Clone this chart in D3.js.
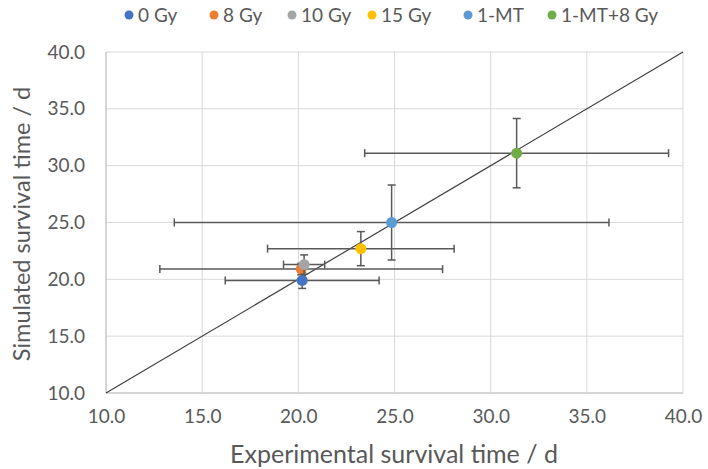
<!DOCTYPE html>
<html><head><meta charset="utf-8">
<script src="https://cdn.jsdelivr.net/npm/d3@7/dist/d3.min.js"></script>
<style>body{margin:0;background:#fff}svg{display:block}text{font-family:Lato,"Open Sans",sans-serif;fill:#595959}</style>
</head><body>
<svg id="c" width="708" height="469"></svg>
<script>
const series = ["0 Gy","8 Gy","10 Gy","15 Gy","1-MT","1-MT+8 Gy"];
const colors = ["#4472C4","#ED7D31","#A5A5A5","#FFC000","#5B9BD5","#70AD47"];
const xVals = [20.2, 20.15, 20.3, 23.25, 24.85, 31.35];
const yVals = [19.9, 20.9, 21.3, 22.7, 25.0, 31.1];
const xErr = [4.0, 7.35, 1.07, 4.85, 11.3, 7.9];
const yErr = [0.7, 0.5, 0.85, 1.5, 3.3, 3.05];
const ticks = [10,15,20,25,30,35,40];
const legendX = [129,214,292,372,468,552];

const svg = d3.select("#c");
const L=106,R=683,T=52,B=393;
const x = d3.scaleLinear().domain([10,40]).range([L,R]);
const y = d3.scaleLinear().domain([10,40]).range([B,T]);

// grid
svg.append("g").selectAll("line").data(ticks).join("line")
  .attr("x1",d=>x(d)).attr("x2",d=>x(d)).attr("y1",T).attr("y2",B)
  .attr("stroke","#d9d9d9").attr("stroke-width",1);
svg.append("g").selectAll("line").data(ticks).join("line")
  .attr("y1",d=>y(d)).attr("y2",d=>y(d)).attr("x1",L).attr("x2",R)
  .attr("stroke","#d9d9d9").attr("stroke-width",1);
svg.append("line").attr("x1",L).attr("x2",L).attr("y1",T).attr("y2",B).attr("stroke","#bfbfbf");
svg.append("line").attr("x1",L).attr("x2",R).attr("y1",B).attr("y2",B).attr("stroke","#bfbfbf");

// axes
const xa = svg.append("g").attr("transform",`translate(0,${B})`)
  .call(d3.axisBottom(x).tickValues(ticks).tickFormat(d3.format(".1f")).tickSize(0).tickPadding(17));
xa.select(".domain").remove();
xa.selectAll("text").style("font-size","19px").attr("fill","#595959");
const ya = svg.append("g").attr("transform",`translate(${L},0)`)
  .call(d3.axisLeft(y).tickValues(ticks).tickFormat(d3.format(".1f")).tickSize(0).tickPadding(21));
ya.select(".domain").remove();
ya.selectAll("text").style("font-size","19px").attr("fill","#595959");

// titles
svg.append("text").attr("x",394).attr("y",463).attr("text-anchor","middle")
  .style("font-size","25px").text("Experimental survival time / d");
svg.append("text").attr("transform",`translate(30,224) rotate(-90)`).attr("text-anchor","middle")
  .style("font-size","23.5px").text("Simulated survival time / d");

// diagonal
svg.append("line").attr("x1",x(10)).attr("y1",y(10)).attr("x2",x(40)).attr("y2",y(40))
  .attr("stroke","#404040").attr("stroke-width",1.2);

const cap=4;
series.forEach((s,i)=>{
  const g=svg.append("g");
  const cx=x(xVals[i]), cy=y(yVals[i]);
  const x0=x(xVals[i]-xErr[i]), x1=x(xVals[i]+xErr[i]);
  const y0=y(yVals[i]-yErr[i]), y1=y(yVals[i]+yErr[i]);
  const st={stroke:"#595959","stroke-width":1.5};
  const ln=(a,b,c,d)=>{const l=g.append("line").attr("x1",a).attr("y1",b).attr("x2",c).attr("y2",d);Object.entries(st).forEach(([k,v])=>l.attr(k,v));};
  ln(x0,cy,x1,cy); ln(x0,cy-cap,x0,cy+cap); ln(x1,cy-cap,x1,cy+cap);
  ln(cx,y0,cx,y1); ln(cx-cap,y0,cx+cap,y0); ln(cx-cap,y1,cx+cap,y1);
  g.append("circle").attr("cx",cx).attr("cy",cy).attr("r",5.5).attr("fill",colors[i]);
});

// legend
const lg=svg.append("g");
series.forEach((s,i)=>{
  lg.append("circle").attr("cx",legendX[i]).attr("cy",15).attr("r",4.5).attr("fill",colors[i]);
  lg.append("text").attr("x",legendX[i]+9).attr("y",22).style("font-size","19px").text(s);
});
</script>
</body></html>
